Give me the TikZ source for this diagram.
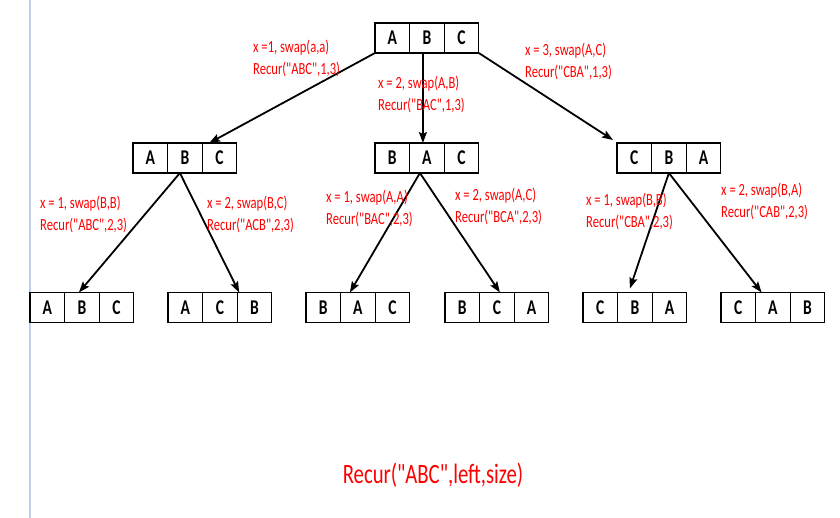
\documentclass[tikz,border=0pt]{standalone}
\usepackage{fontspec}
\setmainfont{Carlito}[FakeStretch=0.74, Ligatures=TeXOff]
\usepackage{tikz}
\usetikzlibrary{positioning, arrows.meta}
\tikzstyle{cell} = [draw, line width=1.3pt, minimum width=34.6pt, minimum height=30pt, inner sep=0pt, outer sep=0pt, font=\fontsize{21}{21}\selectfont\bfseries]
\tikzstyle{arrow} = [line width=1.8pt, -{Stealth[length=11pt,width=8pt,inset=2pt]}]
\tikzstyle{note} = [text=red, align=left, anchor=west, inner sep=0pt, font=\fontsize{17}{22}\selectfont]
\definecolor{pageblue}{RGB}{190,208,232}

\newcommand{\perm}[6]{%
  \node[cell, anchor=west] (#1a) at (#2,#3) {#4};
  \node[cell, right=0pt of #1a] (#1b) {#5};
  \node[cell, right=0pt of #1b] (#1c) {#6};
}

\begin{document}
\begin{tikzpicture}[x=1pt, y=-1pt]
    \useasboundingbox (0,0) rectangle (840,518);
    \draw[pageblue, line width=1.5pt] (30,0) -- (30,518);
    \perm{root}{375}{38}{A}{B}{C}
    \perm{lft}{133}{158}{A}{B}{C}
    \perm{mid}{375}{158}{B}{A}{C}
    \perm{rgt}{617}{158}{C}{B}{A}
    \perm{ll}{30}{307.5}{A}{B}{C}
    \perm{lr}{168}{307.5}{A}{C}{B}
    \perm{ml}{306}{307.5}{B}{A}{C}
    \perm{mr}{445}{307.5}{B}{C}{A}
    \perm{rl}{583}{307.5}{C}{B}{A}
    \perm{rr}{721}{307.5}{C}{A}{B}
    \draw[arrow] (roota.south west) -- ([xshift=7pt]lftc.north west);
    \draw[arrow] ([xshift=-4pt]rootb.south) -- ([xshift=-4pt]midb.north);
    \draw[arrow] (rootc.south east) -- ([xshift=-4pt,yshift=3pt]rgta.north west);
    \draw[arrow] ([xshift=-5pt]lftb.south) -- ([xshift=-3pt]llb.north);
    \draw[arrow] ([xshift=-5pt]lftb.south) -- ([xshift=2pt]lrc.north west);
    \draw[arrow] ([xshift=-7pt]midb.south) -- ([xshift=-8pt]mlb.north);
    \draw[arrow] ([xshift=-7pt]midb.south) -- ([xshift=3pt]mrb.north);
    \draw[arrow] (rgtb.south) -- ([xshift=-5pt,yshift=4pt]rlb.north);
    \draw[arrow] (rgtb.south) -- ([xshift=6pt]rrb.north west);
    \node[note] (n1) at (253,58.5) {x =1, swap(a,a)\\Recur("ABC",1,3)};
    \node[note] (n2) at (378,94) {x = 2, swap(A,B)\\Recur("BAC",1,3)};
    \node[note] (n3) at (525,61.5) {x = 3, swap(A,C)\\Recur("CBA",1,3)};
    \node[note] (n4) at (40,214.5) {x = 1, swap(B,B)\\Recur("ABC",2,3)};
    \node[note] (n5) at (207,214.5) {x = 2, swap(B,C)\\Recur("ACB",2,3)};
    \node[note] (n6) at (326,208.5) {x = 1, swap(A,A)\\Recur("BAC",2,3)};
    \node[note] (n7) at (455,206.5) {x = 2, swap(A,C)\\Recur("BCA",2,3)};
    \node[note] (n8) at (586,211.5) {x = 1, swap(B,B)\\Recur("CBA",2,3)};
    \node[note] (n9) at (721,201.5) {x = 2, swap(B,A)\\Recur("CAB",2,3)};
    \node[text=red, font=\fontsize{28}{30}\selectfont] (call) at (433,475) {Recur("ABC",left,size)};
\end{tikzpicture}
\end{document}
